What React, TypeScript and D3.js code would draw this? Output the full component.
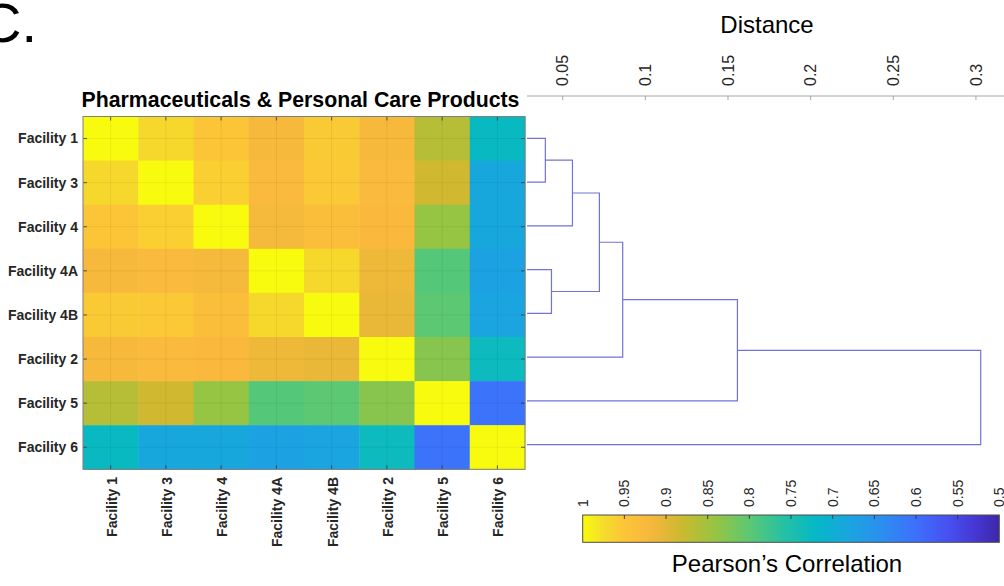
import { useEffect, useRef } from 'react';
import * as d3 from 'd3';

// row / column order of the clustered matrix
const facilities = ['Facility 1', 'Facility 3', 'Facility 4', 'Facility 4A', 'Facility 4B', 'Facility 2', 'Facility 5', 'Facility 6'];

// Pearson's correlation between facilities (same order as above)
const correlation = [
  [1.000, 0.970, 0.950, 0.922, 0.955, 0.922, 0.865, 0.725],
  [0.970, 1.000, 0.960, 0.927, 0.953, 0.927, 0.885, 0.685],
  [0.950, 0.960, 1.000, 0.920, 0.935, 0.925, 0.840, 0.685],
  [0.922, 0.927, 0.920, 1.000, 0.970, 0.912, 0.795, 0.675],
  [0.955, 0.953, 0.935, 0.970, 1.000, 0.907, 0.800, 0.680],
  [0.922, 0.927, 0.925, 0.912, 0.907, 1.000, 0.830, 0.730],
  [0.865, 0.885, 0.840, 0.795, 0.800, 0.830, 1.000, 0.605],
  [0.725, 0.685, 0.685, 0.675, 0.680, 0.730, 0.605, 1.000],
];

// linkage rows: [left, right, distance]; leaves are 0..7, merged clusters get ids from 8 up
const linkage = [
  [0, 1, 0.0395],
  [3, 4, 0.0432],
  [8, 2, 0.0559],
  [10, 9, 0.0722],
  [11, 5, 0.0863],
  [12, 6, 0.1557],
  [13, 7, 0.3029],
];

const distanceTicks = [0.05, 0.1, 0.15, 0.2, 0.25, 0.3];
const colorbarTicks = [1, 0.95, 0.9, 0.85, 0.8, 0.75, 0.7, 0.65, 0.6, 0.55, 0.5];

// parula-like colormap, t = 0 (low) .. 1 (high)
const PARULA: [number, string][] = [
  [0.00, '#3e26a8'],
  [0.06, '#4538d4'],
  [0.12, '#474ff0'],
  [0.20, '#3d6ffc'],
  [0.28, '#2b8ef0'],
  [0.36, '#1aa5e0'],
  [0.44, '#04b8c6'],
  [0.52, '#27c1a3'],
  [0.60, '#5cc873'],
  [0.68, '#96c443'],
  [0.76, '#c9ba2f'],
  [0.80, '#e3b736'],
  [0.85, '#fab93d'],
  [0.90, '#fcc537'],
  [0.95, '#f4dd2b'],
  [1.00, '#f9fb0e'],
];

const FONT = '"Liberation Sans", Arial, Helvetica, sans-serif';
const TXT = '#262626';

export default function App() {
  const ref = useRef<SVGSVGElement>(null);

  useEffect(() => {
    if (!ref.current) return;
    const svg = d3.select(ref.current);
    svg.selectAll('*').remove();

    const tScale = d3.scaleLinear<string>()
      .domain(PARULA.map(p => p[0]))
      .range(PARULA.map(p => p[1]))
      .interpolate(d3.interpolateRgb)
      .clamp(true);
    const clim = d3.scaleLinear().domain([0.5, 1]).range([0, 1]);
    const color = (v: number) => tScale(clim(v));

    // panel letter
    svg.append('text')
      .attr('x', -19).attr('y', 42)
      .attr('font-family', FONT).attr('font-size', 56)
      .attr('fill', '#000')
      .text('C.');

    // ---------- HEATMAP ----------
    const hx = d3.scaleBand().domain(facilities).range([83, 525]);
    const hy = d3.scaleBand().domain(facilities).range([116.5, 469.3]);
    const hm = svg.append('g');

    correlation.forEach((row, i) => {
      row.forEach((v, j) => {
        hm.append('rect')
          .attr('x', hx(facilities[j])!)
          .attr('y', hy(facilities[i])!)
          .attr('width', hx.bandwidth() + 0.5)
          .attr('height', hy.bandwidth() + 0.5)
          .attr('fill', color(v));
      });
    });

    // faint grid through cell centres
    facilities.forEach(f => {
      const cx = hx(f)! + hx.bandwidth() / 2;
      const cy = hy(f)! + hy.bandwidth() / 2;
      hm.append('line').attr('x1', cx).attr('x2', cx).attr('y1', 116.5).attr('y2', 469.3)
        .attr('stroke', '#000').attr('stroke-opacity', 0.1).attr('stroke-width', 0.6);
      hm.append('line').attr('x1', 83).attr('x2', 525).attr('y1', cy).attr('y2', cy)
        .attr('stroke', '#000').attr('stroke-opacity', 0.1).attr('stroke-width', 0.6);
      // inward ticks on all four sides
      const tk = 4;
      hm.append('line').attr('x1', cx).attr('x2', cx).attr('y1', 469.3).attr('y2', 469.3 - tk).attr('stroke', '#333').attr('stroke-width', 0.8);
      hm.append('line').attr('x1', cx).attr('x2', cx).attr('y1', 116.5).attr('y2', 116.5 + tk).attr('stroke', '#333').attr('stroke-width', 0.8);
      hm.append('line').attr('x1', 83).attr('x2', 83 + tk).attr('y1', cy).attr('y2', cy).attr('stroke', '#333').attr('stroke-width', 0.8);
      hm.append('line').attr('x1', 525).attr('x2', 525 - tk).attr('y1', cy).attr('y2', cy).attr('stroke', '#333').attr('stroke-width', 0.8);
    });

    hm.append('rect')
      .attr('x', 83).attr('y', 116.5)
      .attr('width', 442).attr('height', 469.3 - 116.5)
      .attr('fill', 'none').attr('stroke', '#7f7f7f').attr('stroke-width', 1);

    // y labels
    hm.selectAll('.ylab')
      .data(facilities)
      .enter()
      .append('text')
      .attr('x', 78)
      .attr('y', d => hy(d)! + hy.bandwidth() / 2)
      .attr('dy', '0.35em')
      .attr('text-anchor', 'end')
      .attr('font-family', FONT).attr('font-size', 14).attr('font-weight', 'bold')
      .attr('fill', TXT)
      .text(d => d);

    // x labels (rotated)
    hm.selectAll('.xlab')
      .data(facilities)
      .enter()
      .append('text')
      .attr('transform', d => `translate(${hx(d)! + hx.bandwidth() / 2 + 1},477) rotate(-90)`)
      .attr('dy', '0.35em')
      .attr('text-anchor', 'end')
      .attr('font-family', FONT).attr('font-size', 14).attr('font-weight', 'bold')
      .attr('fill', TXT)
      .text(d => d);

    // title
    svg.append('text')
      .attr('x', 300.5).attr('y', 107)
      .attr('text-anchor', 'middle')
      .attr('font-family', FONT).attr('font-size', 21.3).attr('font-weight', 'bold')
      .attr('fill', '#000')
      .text('Pharmaceuticals & Personal Care Products');

    // ---------- DENDROGRAM ----------
    const dx = d3.scaleLinear().domain([0.0284, 0.3188]).range([527, 1007]);
    const dy = d3.scalePoint<number>().domain(d3.range(facilities.length)).range([138.3, 444.7]);
    const dg = svg.append('g');

    dg.append('line')
      .attr('x1', dx(0.0284)).attr('x2', 1007).attr('y1', 96).attr('y2', 96)
      .attr('stroke', '#a6a6a6').attr('stroke-width', 1);

    distanceTicks.forEach(t => {
      dg.append('line')
        .attr('x1', dx(t)).attr('x2', dx(t)).attr('y1', 96).attr('y2', 100)
        .attr('stroke', '#a6a6a6').attr('stroke-width', 1);
      dg.append('text')
        .attr('transform', `translate(${dx(t)},86) rotate(-90)`)
        .attr('dy', '0.35em')
        .attr('text-anchor', 'start')
        .attr('font-family', FONT).attr('font-size', 16)
        .attr('fill', TXT)
        .text(String(t));
    });

    svg.append('text')
      .attr('x', 767).attr('y', 33)
      .attr('text-anchor', 'middle')
      .attr('font-family', FONT).attr('font-size', 24)
      .attr('fill', '#000')
      .text('Distance');

    const nodes: { x: number; y: number }[] = facilities.map((_, i) => ({ x: dx.domain()[0], y: dy(i)! }));
    const line = d3.line<[number, number]>().x(p => dx(p[0])).y(p => p[1]);
    linkage.forEach(([a, b, d]) => {
      const A = nodes[a];
      const B = nodes[b];
      dg.append('path')
        .attr('d', line([[A.x, A.y], [d, A.y], [d, B.y], [B.x, B.y]]))
        .attr('fill', 'none')
        .attr('stroke', '#7272d8')
        .attr('stroke-width', 1.2);
      nodes.push({ x: d, y: (A.y + B.y) / 2 });
    });

    // ---------- COLORBAR ----------
    const cb = d3.scaleLinear().domain([1, 0.5]).range([582.7, 999.3]);
    const grad = svg.append('defs').append('linearGradient')
      .attr('id', 'parula-grad')
      .attr('x1', '0%').attr('x2', '100%').attr('y1', '0%').attr('y2', '0%');
    PARULA.slice().reverse().forEach(([t, c]) => {
      grad.append('stop').attr('offset', `${(1 - t) * 100}%`).attr('stop-color', c);
    });

    svg.append('rect')
      .attr('x', cb(1)).attr('y', 515)
      .attr('width', cb(0.5) - cb(1)).attr('height', 27.3)
      .attr('fill', 'url(#parula-grad)')
      .attr('stroke', '#4d4d4d').attr('stroke-width', 1);

    colorbarTicks.forEach(t => {
      if (t !== 1 && t !== 0.5) {
        svg.append('line')
          .attr('x1', cb(t)).attr('x2', cb(t)).attr('y1', 515).attr('y2', 519)
          .attr('stroke', '#333').attr('stroke-width', 0.9);
      }
      svg.append('text')
        .attr('transform', `translate(${cb(t)},507) rotate(-90)`)
        .attr('dy', '0.35em')
        .attr('text-anchor', 'start')
        .attr('font-family', FONT).attr('font-size', 14)
        .attr('fill', TXT)
        .text(String(t));
    });

    svg.append('text')
      .attr('x', 787).attr('y', 572)
      .attr('text-anchor', 'middle')
      .attr('font-family', FONT).attr('font-size', 24)
      .attr('fill', '#000')
      .text('Pearson\u2019s Correlation');
  }, []);

  return (
    <svg
      ref={ref}
      width={1004}
      height={586}
      style={{ position: 'absolute', left: 0, top: 0, background: '#fff' }}
    />
  );
}
